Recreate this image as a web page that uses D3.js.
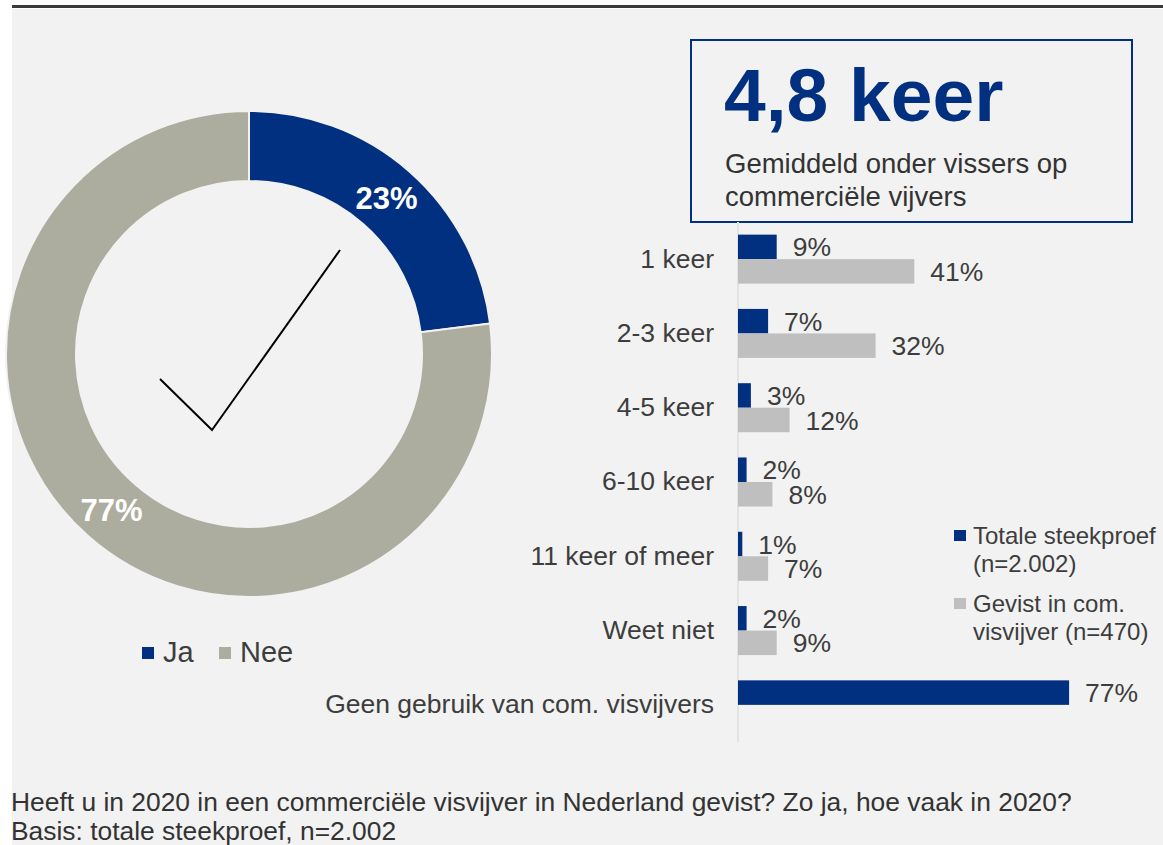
<!DOCTYPE html>
<html>
<head>
<meta charset="utf-8">
<script src="https://cdn.jsdelivr.net/npm/d3@7"></script>
<style>
  html, body { margin: 0; padding: 0; background: #fff; }
  svg { display: block; font-family: "Liberation Sans", Arial, sans-serif; }
</style>
</head>
<body>
<div id="chart"></div>
<script>
// donut data
var donutLabels = ["Ja", "Nee"];
var donutValues = [23, 77];

// bar data
var categories = ["1 keer", "2-3 keer", "4-5 keer", "6-10 keer", "11 keer of meer", "Weet niet", "Geen gebruik van com. visvijvers"];
var totaal = [9, 7, 3, 2, 1, 2, 77];          // Totale steekproef (n=2.002)
var gevist = [41, 32, 12, 8, 7, 9, null];     // Gevist in com. visvijver (n=470)
var seriesNames = [["Totale steekproef", "(n=2.002)"], ["Gevist in com.", "visvijver (n=470)"]];

var width = 1163, height = 845;
var blue = "#00307f", donutGray = "#adad9f", barGray = "#bfbfbf", textCol = "#3d3d3d";

var svg = d3.select("#chart").append("svg")
    .attr("width", width)
    .attr("height", height);

// background + top rule
svg.append("rect").attr("x", 12).attr("y", 9).attr("width", width - 12).attr("height", height - 9).attr("fill", "#f2f2f2");
svg.append("rect").attr("x", 12).attr("y", 5).attr("width", width - 12).attr("height", 3).attr("fill", "#3a3a3a");

// ---- donut ----
var cx = 249, cy = 354;
var pie = d3.pie().sort(null).value(function(d) { return d; });
var arc = d3.arc().innerRadius(173).outerRadius(243);
var labelArc = d3.arc().innerRadius(208).outerRadius(208);
var donut = svg.append("g").attr("transform", "translate(" + cx + "," + cy + ")");
var arcs = pie(donutValues);

donut.selectAll("path")
    .data(arcs)
    .enter().append("path")
    .attr("d", arc)
    .attr("fill", function(d, i) { return i === 0 ? blue : donutGray; })
    .attr("stroke", "#f2f2f2")
    .attr("stroke-width", 2);

donut.selectAll("text.pct")
    .data(arcs)
    .enter().append("text")
    .attr("class", "pct")
    .attr("transform", function(d) { return "translate(" + labelArc.centroid(d) + ")"; })
    .attr("text-anchor", "middle")
    .attr("dy", "0.36em")
    .attr("fill", "#fff")
    .attr("font-weight", "bold")
    .attr("font-size", 31)
    .text(function(d) { return d.value + "%"; });

// check mark
donut.append("path")
    .attr("d", d3.line()([[-89, 25], [-37, 76], [91, -104]]))
    .attr("fill", "none")
    .attr("stroke", "#000")
    .attr("stroke-width", 2);

// donut legend
var dLeg = svg.append("g").attr("transform", "translate(142,647)");
var dItems = dLeg.selectAll("g").data(donutLabels).enter().append("g")
    .attr("transform", function(d, i) { return "translate(" + (i * 77) + ",0)"; });
dItems.append("rect").attr("width", 12).attr("height", 12)
    .attr("fill", function(d, i) { return i === 0 ? blue : donutGray; });
dItems.append("text").attr("x", 21).attr("y", 15)
    .attr("font-size", 29).attr("fill", textCol)
    .text(function(d) { return d; });

// ---- highlight box ----
svg.append("rect").attr("x", 691).attr("y", 40).attr("width", 441).attr("height", 182)
    .attr("fill", "none").attr("stroke", blue).attr("stroke-width", 2);
svg.append("text").attr("x", 724).attr("y", 121)
    .attr("font-size", 75).attr("font-weight", "bold").attr("fill", blue)
    .text("4,8 keer");
svg.append("text").attr("x", 725).attr("y", 173)
    .attr("font-size", 27.5).attr("fill", "#333")
    .text("Gemiddeld onder vissers op");
svg.append("text").attr("x", 725).attr("y", 206)
    .attr("font-size", 27.5).attr("fill", "#333")
    .text("commerciële vijvers");

// ---- bar chart ----
var x = d3.scaleLinear().domain([0, 100]).range([738, 738 + 430]);
var y = d3.scaleBand().domain(categories).range([222, 742]).paddingInner(0.34).paddingOuter(0.17);
var sub = d3.scaleBand().domain([0, 1]).range([0, y.bandwidth()]);

svg.append("line").attr("x1", 738).attr("x2", 738).attr("y1", 222).attr("y2", 742)
    .attr("stroke", "#e3e3e3").attr("stroke-width", 2);

var yAxis = svg.append("g")
    .attr("transform", "translate(714,0)")
    .call(d3.axisLeft(y).tickSize(0).tickPadding(0));
yAxis.select(".domain").remove();
yAxis.selectAll("text").attr("font-size", 26.5).attr("fill", textCol)
    .attr("font-family", "Liberation Sans, Arial, sans-serif");

var rows = [];
categories.forEach(function(c, i) {
    rows.push({ cat: c, s: 0, v: totaal[i] });
    if (gevist[i] != null) rows.push({ cat: c, s: 1, v: gevist[i] });
});

svg.selectAll("rect.bar")
    .data(rows)
    .enter().append("rect")
    .attr("class", "bar")
    .attr("x", x(0))
    .attr("y", function(d) { return y(d.cat) + sub(d.s); })
    .attr("width", function(d) { return x(d.v) - x(0); })
    .attr("height", sub.bandwidth())
    .attr("fill", function(d) { return d.s === 0 ? blue : barGray; });

svg.selectAll("text.val")
    .data(rows)
    .enter().append("text")
    .attr("class", "val")
    .attr("x", function(d) { return x(d.v) + 16; })
    .attr("y", function(d) { return y(d.cat) + sub(d.s) + sub.bandwidth() / 2; })
    .attr("dy", "0.36em")
    .attr("font-size", 26.5)
    .attr("fill", textCol)
    .text(function(d) { return d.v + "%"; });

// bar legend
var bLeg = svg.append("g").attr("transform", "translate(954,530)");
var bItems = bLeg.selectAll("g").data(seriesNames).enter().append("g")
    .attr("transform", function(d, i) { return "translate(0," + (i * 68) + ")"; });
bItems.append("rect").attr("width", 12).attr("height", 11)
    .attr("fill", function(d, i) { return i === 0 ? blue : barGray; });
bItems.append("text").attr("x", 19).attr("y", 14)
    .attr("font-size", 24).attr("fill", textCol)
    .selectAll("tspan").data(function(d) { return d; }).enter().append("tspan")
    .attr("x", 19).attr("dy", function(d, i) { return i === 0 ? 0 : 28; })
    .text(function(d) { return d; });

// footer
svg.append("text").attr("x", 11).attr("y", 811).attr("font-size", 26.4).attr("fill", "#333")
    .text("Heeft u in 2020 in een commerciële visvijver in Nederland gevist? Zo ja, hoe vaak in 2020?");
svg.append("text").attr("x", 11).attr("y", 840).attr("font-size", 26.4).attr("fill", "#333")
    .text("Basis: totale steekproef, n=2.002");
</script>
</body>
</html>
